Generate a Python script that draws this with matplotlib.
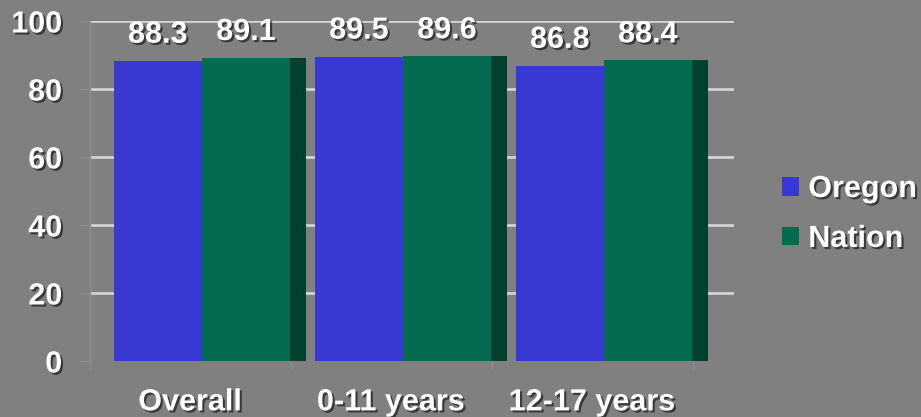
import matplotlib.pyplot as plt
import matplotlib.patheffects as pe
from matplotlib.patches import Patch
import numpy as np

# Data
categories = ['Overall', '0-11 years', '12-17 years']
oregon = [88.3, 89.5, 86.8]
nation = [89.1, 89.6, 88.4]
series_names = ['Oregon', 'Nation']
yticks = [0, 20, 40, 60, 80, 100]

BG = '#808080'
C_OR = '#3838d2'
C_NA = '#046a50'
C_SIDE = '#00402f'
GRID = '#d6d6d6'
FAINT = '#8e8e8e'
FS = 22

plt.rcParams['font.family'] = ['Liberation Sans', 'DejaVu Sans']
plt.rcParams['font.weight'] = 'bold'

shadow = [pe.SimplePatchShadow(offset=(1.5, -1.5), shadow_rgbFace='black', alpha=0.55), pe.Normal()]

fig = plt.figure(figsize=(9.21, 4.17), dpi=100, facecolor=BG)
ax = fig.add_axes([90 / 921, 1 - 361 / 417, 644 / 921, 340 / 417])
ax.set_facecolor(BG)

x = np.arange(len(categories))
w = 0.438
side = 0.08

# gridlines (behind the bars)
for v in yticks[1:]:
    ax.axhline(v, color=GRID, lw=1.9, zorder=1,
               path_effects=[pe.SimplePatchShadow(offset=(0, -1), shadow_rgbFace='black', alpha=0.3), pe.Normal()])
ax.axhline(0, color=FAINT, lw=1, zorder=1)

ax.bar(x - w / 2, oregon, w, color=C_OR, zorder=3)
ax.bar(x + w / 2, nation, w, color=C_NA, zorder=3)
ax.bar(x + w + side / 2, nation, side, color=C_SIDE, zorder=3)

# value labels
for xi, v in zip(x - w / 2, oregon):
    ax.annotate(f'{v}', (xi, v), xytext=(0, 13), textcoords='offset points',
                ha='center', va='baseline', color='white', fontsize=FS, fontweight='bold',
                path_effects=shadow, zorder=5)
for xi, v in zip(x + w / 2, nation):
    ax.annotate(f'{v}', (xi, v), xytext=(0, 13), textcoords='offset points',
                ha='center', va='baseline', color='white', fontsize=FS, fontweight='bold',
                path_effects=shadow, zorder=5)

ax.set_xlim((90 - 202) / 201, (734 - 202) / 201)
ax.set_ylim(0, 100)

ax.set_yticks(yticks)
ax.set_yticklabels([str(v) for v in yticks])
ax.tick_params(axis='y', length=7, width=1, color=FAINT, pad=13, labelsize=FS, labelcolor='white')

ax.set_xticks(x - 0.06)
ax.set_xticklabels(categories)
ax.tick_params(axis='x', length=0, pad=19, labelsize=FS, labelcolor='white')
ax.set_xticks(np.arange(4) + (90 - 202) / 201, minor=True)
ax.tick_params(axis='x', which='minor', length=6, width=1, color=FAINT)

for lab in ax.get_xticklabels() + ax.get_yticklabels():
    lab.set_fontweight('bold')
    lab.set_path_effects(shadow)

for s in ['top', 'right', 'bottom']:
    ax.spines[s].set_visible(False)
ax.spines['left'].set_color(FAINT)
ax.spines['left'].set_linewidth(1)

handles = [Patch(facecolor=C_OR), Patch(facecolor=C_NA)]
leg = fig.legend(handles, series_names, loc='center left', bbox_to_anchor=(782 / 921, 1 - 214 / 417),
                 frameon=False, fontsize=FS, handlelength=0.56, handleheight=0.56,
                 handletextpad=0.3, labelspacing=0.65, borderaxespad=0, borderpad=0)
for t in leg.get_texts():
    t.set_color('white')
    t.set_fontweight('bold')
    t.set_path_effects(shadow)

fig.savefig('out.png', dpi=100, facecolor=BG)
plt.close(fig)
